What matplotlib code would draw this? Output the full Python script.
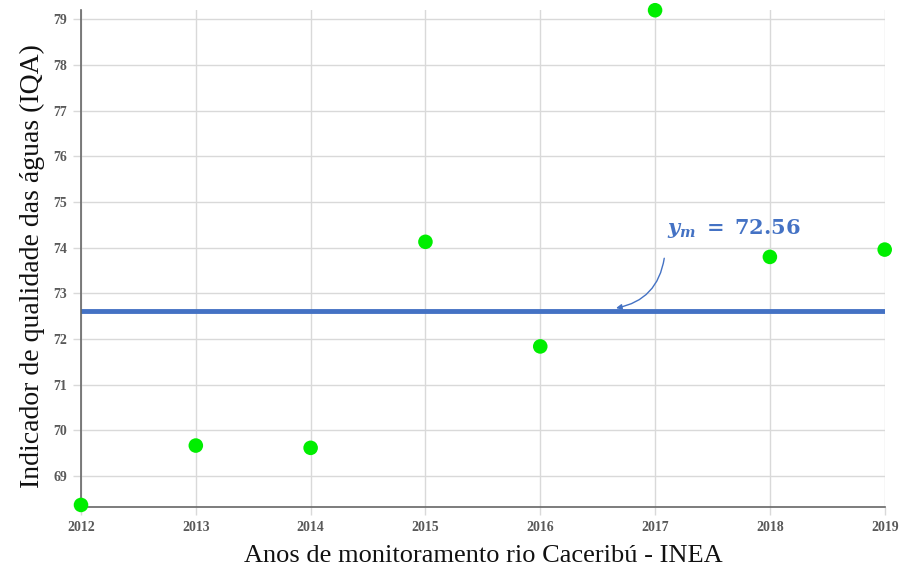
import matplotlib
matplotlib.use("Agg")
import matplotlib.pyplot as plt

plt.rcParams['font.family'] = ['Liberation Serif', 'DejaVu Serif']
plt.rcParams['mathtext.fontset'] = 'dejavuserif'

# data
years = [2012, 2013, 2014, 2015, 2016, 2017, 2018, 2019]
iqa = [68.37, 69.67, 69.62, 74.13, 71.84, 79.2, 73.8, 73.96]
mean_line = [72.62]
mean_label = "72.56"
yticks = list(range(69, 80))

GREEN = "#00EE00"
BLUE = "#4472C4"
GRID = "#D9D9D9"

fig = plt.figure(figsize=(9, 5.68), dpi=100, facecolor="white")
ax = fig.add_axes([0.09, 0.107, 0.893, 0.875])

ax.set_xlim(years[0], years[-1])
ax.set_ylim(68.32, 79.2)
ax.set_xticks(years)
ax.set_yticks(yticks)
ax.grid(True, color=GRID, linewidth=1)
ax.set_axisbelow(True)
ax.tick_params(length=6, width=1, color=GRID, labelsize=10, labelcolor="#595959", pad=4)
for lab in ax.get_xticklabels() + ax.get_yticklabels():
    lab.set_fontweight("bold")

for s in ["top", "right"]:
    ax.spines[s].set_visible(False)
for s in ["left", "bottom"]:
    ax.spines[s].set_color("#666666")
    ax.spines[s].set_linewidth(1.2)

ax.axhline(mean_line[0], color=BLUE, linewidth=3.5, zorder=2)
ax.scatter(years, iqa, s=110, color=GREEN, zorder=3, clip_on=False, edgecolors="none")

# seta curva apontando para a linha da média
ax.annotate("", xy=(2016.66, 72.68), xytext=(2017.08, 73.77),
            arrowprops=dict(arrowstyle="-|>", color=BLUE, lw=1,
                            connectionstyle="arc3,rad=-0.35", mutation_scale=8,
                            shrinkA=0, shrinkB=0), zorder=4)
ax.text(2017.1, 74.42, r"$\mathbfit{y_m}$" + r"$\mathbf{\ =\ " + mean_label + "}$",
        fontsize=15, color=BLUE, ha="left", va="center")

ax.set_xlabel("Anos de monitoramento rio Caceribú - INEA", fontsize=19, color="#111111", labelpad=8)
ax.set_ylabel("Indicador de qualidade das águas (IQA)", fontsize=20, color="#111111", labelpad=6)
ax.yaxis.set_label_coords(-0.045, 0.485)

plt.savefig("out.png", dpi=100, facecolor="white")
plt.close()
